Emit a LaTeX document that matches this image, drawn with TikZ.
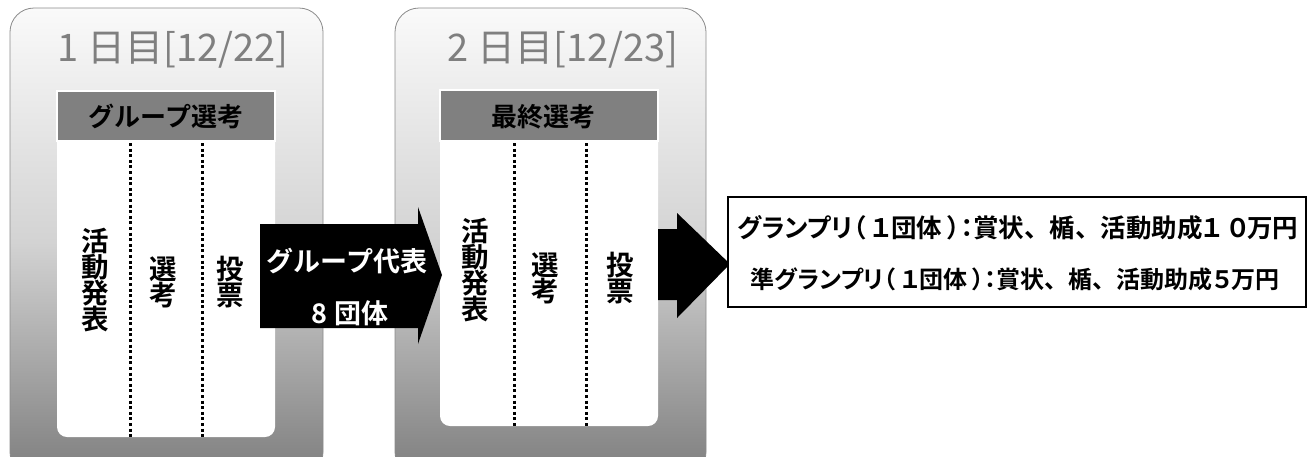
\documentclass[tikz,border=0pt]{standalone}
\usepackage{fontspec}
\newfontfamily\jp{Noto Sans CJK JP}[BoldFont={Noto Sans CJK JP Bold}]
\newfontfamily\jpp{Noto Sans CJK JP}[BoldFont={Noto Sans CJK JP Bold}, RawFeature=+palt]
\definecolor{gtop}{HTML}{FAFAFA}
\definecolor{gmid}{HTML}{D3D3D3}
\definecolor{gbot}{HTML}{7E7E7E}
\definecolor{frame}{HTML}{8A8A8A}
\definecolor{headgray}{HTML}{808080}
\definecolor{titlegray}{HTML}{7F7F7F}
\newcommand{\fwc}{{\jp\bfseries 、}}
\tikzset{
  daybox/.style={top color=gtop, bottom color=gbot, middle color=gmid, draw=frame, line width=0.8pt, rounded corners=24pt},
  innerbox/.style={fill=white},
  headband/.style={fill=headgray, draw=white, line width=1.2pt},
  daytitle/.style={font=\jp\fontsize{38}{38}\selectfont, text=titlegray, inner sep=0pt},
  headtext/.style={font=\jp\bfseries\fontsize{26}{26}\selectfont, text=black, inner sep=0pt},
  coltext/.style={font=\jp\bfseries\fontsize{27.5}{26}\selectfont, align=center, inner sep=0pt},
  sepline/.style={line width=3pt, dash pattern=on 3pt off 2.6pt},
  blockarrow/.style={fill=black},
  arrowtext/.style={font=\jp\bfseries\fontsize{27}{27}\selectfont, text=white, inner sep=0pt},
  prizebox/.style={draw=black, line width=1.4pt, fill=white},
  prizetext/.style={font=\jpp\bfseries\fontsize{25.5}{25.5}\selectfont, inner sep=0pt},
}
\begin{document}
\begin{tikzpicture}[x=1pt,y=-1pt]
\useasboundingbox (0,0) rectangle (1316,456);
\begin{scope}
\clip (0,0) rectangle (1316,456);
% Day 1
\shade[daybox] (10,8) rectangle (323,476);
\path[innerbox] (57,91) -- (275,91) [rounded corners=10pt] -- (275,437) -- (57,437) [sharp corners] -- cycle;
\draw[headband] (57,91) rectangle (275,141);
\node[daytitle] (t1) at (173,50) {1 日目[12/22]};
\node[headtext] (h1) at (166,116) {グループ選考};
\draw[sepline] (130,143) -- (130,437);
\draw[sepline] (202,143) -- (202,437);
\node[coltext] (a1) at (95,280) {活\\動\\発\\表};
\node[coltext] (b1) at (163,282) {選\\考};
\node[coltext] (c1) at (230,282) {投\\票};
% Day 2
\shade[daybox] (395,8) rectangle (706,476);
\path[innerbox] (440,90) -- (658,90) [rounded corners=10pt] -- (658,426) -- (440,426) [sharp corners] -- cycle;
\draw[headband] (440,90) rectangle (658,141);
\node[daytitle] (t2) at (563,50) {2 日目[12/23]};
\node[headtext] (h2) at (543,117) {最終選考};
\draw[sepline] (514,143) -- (514,426);
\draw[sepline] (586,143) -- (586,426);
\node[coltext] (a2) at (475,270) {活\\動\\発\\表};
\node[coltext] (b2) at (545,278) {選\\考};
\node[coltext] (c2) at (620,278) {投\\票};
% Arrow 1
\fill[blockarrow] (260,224) -- (418,224) -- (418,207) -- (442,275) -- (418,344) -- (418,328) -- (260,328) -- cycle;
\node[arrowtext] (r1) at (347,261) {グループ代表};
\node[arrowtext] (r2) at (350,313) {8 団体};
% Arrow 2
\fill[blockarrow] (658,229) -- (677,229) -- (677,213) -- (730,264) -- (677,318) -- (677,300) -- (658,300) -- cycle;
% Prize box
\draw[prizebox] (728,197) rectangle (1306,307);
\node[prizetext] (p1) at (1018,228) {グランプリ（ １団体 ）：賞状\fwc 楯\fwc 活動助成１ ０万円};
\node[prizetext, font=\jpp\bfseries\fontsize{24}{24}\selectfont] (p2) at (1015,279) {準グランプリ（ １団体 ）：賞状\fwc 楯\fwc 活動助成５万円};
\end{scope}
\end{tikzpicture}
\end{document}
